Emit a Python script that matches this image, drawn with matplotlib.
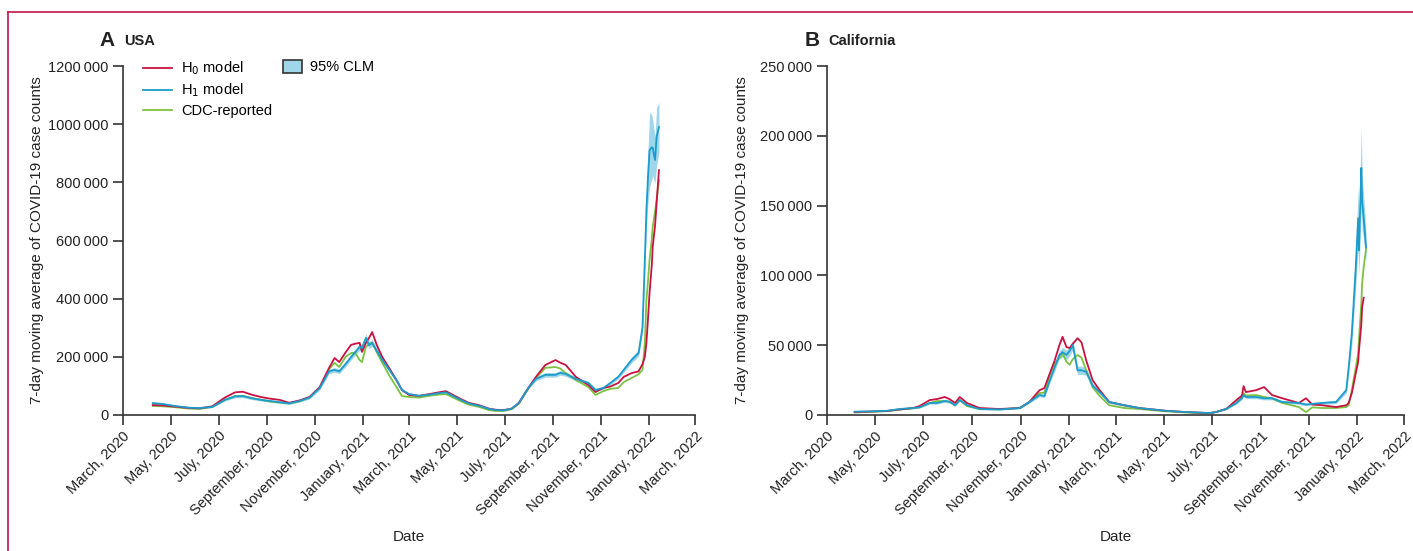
import matplotlib
matplotlib.use("Agg")
import matplotlib.pyplot as plt
import matplotlib.dates as mdates
from matplotlib.lines import Line2D
from matplotlib.patches import Patch
from matplotlib.ticker import FuncFormatter
import numpy as np
import pandas as pd

plt.rcParams['font.family'] = ['Liberation Sans Narrow', 'Liberation Sans', 'DejaVu Sans']

# ---- USA (values in thousands) ----
usa_dates = [
    "2020-04-08", "2020-04-20", "2020-05-06", "2020-05-25", "2020-06-07", "2020-06-23",
    "2020-07-09", "2020-07-22", "2020-08-01", "2020-08-12", "2020-08-24", "2020-09-05",
    "2020-09-17", "2020-09-29", "2020-10-12", "2020-10-25", "2020-11-07", "2020-11-19",
    "2020-11-26", "2020-12-02", "2020-12-10", "2020-12-17", "2020-12-22", "2020-12-28",
    "2020-12-31", "2021-01-05", "2021-01-09", "2021-01-13", "2021-01-19", "2021-01-26",
    "2021-02-04", "2021-02-13", "2021-02-20", "2021-03-01", "2021-03-14", "2021-03-27",
    "2021-04-08", "2021-04-17", "2021-05-04", "2021-05-16", "2021-05-29", "2021-06-11",
    "2021-06-20", "2021-06-30", "2021-07-10", "2021-07-19", "2021-08-01", "2021-08-10",
    "2021-08-22", "2021-09-04", "2021-09-10", "2021-09-17", "2021-09-30", "2021-10-16",
    "2021-10-25", "2021-11-04", "2021-11-13", "2021-11-23", "2021-11-30", "2021-12-10",
    "2021-12-19", "2021-12-24", "2021-12-27", "2021-12-29", "2021-12-31", "2022-01-02",
    "2022-01-05", "2022-01-06", "2022-01-09", "2022-01-11", "2022-01-14",
]
usa_h0 = [
    34, 33, 29, 24, 23, 30, 60, 78, 80, 70, 62, 56,
    52, 42, 50, 62, 96, 162, 196, 182, 215, 241, 245, 248,
    217, 248, 265, 285, 240, 199, 160, 120, 86, 69, 66, 72,
    78, 82, 58, 42, 34, 22, 18, 17, 22, 41, 96, 131,
    172, 189, 180, 172, 131, 103, 79, 93, 98, 110, 131, 144,
    150, 175, 200, 248, 330, 420, 520, 578, 650, 729, 842,
]
usa_h1 = [
    41, 38, 31, 25, 24, 28, 52, 64, 65, 58, 52, 48,
    44, 40, 48, 60, 92, 150, 155, 150, 175, 199, 215, 234,
    230, 265, 240, 248, 220, 189, 155, 120, 86, 72, 66, 70,
    75, 78, 55, 40, 32, 21, 17, 16, 22, 41, 96, 124,
    138, 138, 145, 141, 124, 110, 86, 93, 110, 131, 155, 189,
    213, 302, 533, 705, 818, 911, 921, 918, 877, 956, 990,
]
usa_h1_ci = [
    4, 4, 3, 3, 3, 3, 4, 5, 5, 5, 4, 4,
    4, 4, 4, 5, 6, 8, 8, 8, 9, 10, 10, 12,
    12, 14, 12, 12, 10, 9, 8, 7, 5, 4, 4, 4,
    4, 4, 3, 3, 3, 2, 2, 2, 2, 3, 5, 7,
    8, 8, 8, 8, 7, 6, 5, 5, 6, 7, 8, 10,
    12, 20, 35, 60, 90, 130, 110, 95, 80, 100, 85,
]
usa_cdc = [
    31, 30, 27, 22, 21, 28, 52, 65, 66, 58, 53, 46,
    43, 40, 47, 60, 94, 158, 179, 165, 200, 213, 215, 189,
    182, 234, 245, 248, 215, 179, 135, 96, 65, 62, 60, 66,
    70, 72, 50, 36, 28, 17, 14, 14, 20, 38, 94, 127,
    162, 165, 160, 144, 120, 96, 69, 82, 90, 93, 113, 127,
    140, 155, 250, 395, 460, 533, 610, 646, 700, 739, 808,
]

# ---- California (values in thousands) ----
ca_dates = [
    "2020-04-05", "2020-04-25", "2020-05-16", "2020-06-01", "2020-06-18", "2020-06-26",
    "2020-07-09", "2020-07-18", "2020-07-28", "2020-08-03", "2020-08-10", "2020-08-16",
    "2020-08-25", "2020-09-10", "2020-10-05", "2020-10-31", "2020-11-12", "2020-11-25",
    "2020-12-01", "2020-12-08", "2020-12-14", "2020-12-20", "2020-12-24", "2020-12-29",
    "2021-01-02", "2021-01-06", "2021-01-12", "2021-01-17", "2021-01-23", "2021-01-31",
    "2021-02-09", "2021-02-21", "2021-03-12", "2021-03-31", "2021-05-04", "2021-05-29",
    "2021-06-28", "2021-07-06", "2021-07-19", "2021-08-01", "2021-08-08", "2021-08-10",
    "2021-08-13", "2021-08-26", "2021-09-05", "2021-09-15", "2021-09-28", "2021-10-19",
    "2021-10-28", "2021-11-05", "2021-11-17", "2021-12-05", "2021-12-18", "2021-12-21",
    "2021-12-25", "2021-12-30", "2022-01-02", "2022-01-03", "2022-01-06", "2022-01-07",
    "2022-01-09", "2022-01-12",
]
ca_h0 = [
    2.1, 2.5, 2.9, 4.0, 5.0, 6.4, 10.7, 11.4, 12.9, 11.4, 8.6, 12.9,
    8.6, 5.0, 4.3, 5.0, 9.3, 17.8, 19.3, 30, 39, 50, 56, 48.6,
    48, 51, 55, 52, 39, 25, 17.8, 9.3, 7, 5, 3, 2.1,
    1.4, 2.1, 4.3, 10.7, 14, 20.7, 16.4, 17.8, 20, 14.3, 12, 8.6,
    12, 7.5, 7, 5.7, 7, 8.6, 15.7, 30, 38, 46, 65, 77,
    84, np.nan,
]
ca_h1 = [
    2.4, 2.6, 3.0, 4.3, 5.0, 5.5, 8.6, 8.6, 10.0, 9.5, 7.0, 10.7,
    7.0, 4.3, 4.0, 5.0, 9.3, 14.3, 13.6, 25, 34, 43, 45, 43,
    46, 50, 32, 32, 31, 21, 16.4, 9.3, 7, 5, 3, 2.1,
    1.4, 2.1, 4.3, 8.6, 12, 14.3, 12.9, 12.9, 12, 12, 9.3, 8.6,
    7.5, 8, 8.6, 9.3, 17.8, 34, 58.6, 106, 141, 118, 177, 153,
    141, 120,
]
ca_h1_ci = [
    0.4, 0.4, 0.4, 0.5, 0.5, 0.6, 0.8, 0.8, 0.9, 0.9, 0.8, 0.9,
    0.8, 0.5, 0.5, 0.6, 0.9, 1.2, 1.2, 2, 2.5, 3, 3.5, 3.5,
    3.5, 3.5, 3, 3, 2.5, 2, 1.5, 1, 0.8, 0.6, 0.4, 0.3,
    0.3, 0.3, 0.5, 0.8, 1, 1.2, 1.2, 1.2, 1.2, 1.1, 1, 0.9,
    0.9, 0.9, 1, 1.2, 2, 4, 8, 14, 22, 18, 29, 20,
    16, 10,
]
ca_cdc = [
    1.8, 2.3, 2.7, 3.8, 4.8, 5.5, 8.6, 10.0, 10.0, 9.5, 7.0, 10.7,
    6.4, 4.3, 4.0, 5.0, 9.3, 15.7, 16, 28.6, 37, 41, 44, 38,
    36, 40, 43, 41, 32, 20, 13.6, 7, 5, 4.3, 2.6, 1.8,
    1.4, 2.1, 4.3, 8.6, 13, 15.7, 14, 14.3, 12.9, 12, 8.6, 5.7,
    2, 5.5, 5, 5, 5.7, 7, 17.8, 34, 44, 53.5, 80, 94,
    106, 119,
]

RED = "#c8123f"
BLUE = "#1b9ccc"
GREEN = "#7cc242"
BAND = "#9fd6e9"
FRAME = "#c0174a"
GREY = "#333333"
TXT = "#222222"

fig = plt.figure(figsize=(14.13, 5.51), dpi=100)
W, H = 1413, 551


def px_axes(x0, x1, y0, y1):
    return fig.add_axes([x0 / W, 1 - y1 / H, (x1 - x0) / W, (y1 - y0) / H])


def fmt_thousands(v, pos):
    v = int(round(v))
    if v >= 10000:
        return f"{v // 1000}\u2009{v % 1000:03d}"
    return str(v)


def draw_panel(ax, dates, h0, h1, ci, cdc, ymax, ystep, ypad):
    d = pd.to_datetime(dates)
    h0 = np.array(h0, dtype=float) * 1000
    h1 = np.array(h1, dtype=float) * 1000
    ci = np.array(ci, dtype=float) * 1000
    cdc = np.array(cdc, dtype=float) * 1000
    ax.fill_between(d, h1 - ci, h1 + ci, color=BAND, lw=0, zorder=1)
    ax.plot(d, h0, color=RED, lw=1.3, zorder=3)
    ax.plot(d, cdc, color=GREEN, lw=1.3, zorder=2)
    ax.plot(d, h1, color=BLUE, lw=1.3, zorder=4)

    ax.set_xlim(pd.Timestamp("2020-03-01"), pd.Timestamp("2022-03-01"))
    ax.set_ylim(0, ymax)
    ax.set_yticks(np.arange(0, ymax + 1, ystep))
    ax.yaxis.set_major_formatter(FuncFormatter(fmt_thousands))
    ax.xaxis.set_major_locator(mdates.MonthLocator(bymonth=[1, 3, 5, 7, 9, 11]))
    ax.xaxis.set_major_formatter(mdates.DateFormatter("%B, %Y"))
    for lab in ax.get_xticklabels():
        lab.set_rotation(45)
        lab.set_ha("right")
        lab.set_rotation_mode("anchor")
    for s in ["top", "right"]:
        ax.spines[s].set_visible(False)
    for s in ["left", "bottom"]:
        ax.spines[s].set_color(GREY)
        ax.spines[s].set_linewidth(1.2)
    ax.tick_params(axis="both", direction="out", length=7, width=1.2, color=GREY,
                   labelsize=10.5, labelcolor=TXT)
    ax.tick_params(axis="x", pad=3)
    ax.set_xlabel("Date", fontsize=11, color=TXT, labelpad=8.5)
    ax.set_ylabel("7-day moving average of COVID-19 case counts", fontsize=11,
                  color=TXT, labelpad=ypad)


ax1 = px_axes(123, 695, 66, 415)
ax2 = px_axes(827, 1404, 66, 415)

draw_panel(ax1, usa_dates, usa_h0, usa_h1, usa_h1_ci, usa_cdc, 1200000, 200000, 3)
draw_panel(ax2, ca_dates, ca_h0, ca_h1, ca_h1_ci, ca_cdc, 250000, 50000, 8)

# panel titles
fig.text(99 / W, 1 - 40 / H, "A", fontsize=15, fontweight="bold", va="center", color=TXT)
fig.text(124 / W, 1 - 41 / H, "USA", fontsize=10.5, fontweight="bold", va="center", color=TXT)
fig.text(805 / W, 1 - 40 / H, "B", fontsize=15, fontweight="bold", va="center", color=TXT)
fig.text(828 / W, 1 - 41 / H, "California", fontsize=10.5, fontweight="bold", va="center", color=TXT)

# legend
line_handles = [
    Line2D([], [], color=RED, lw=1.3, label="H$_0$ model"),
    Line2D([], [], color=BLUE, lw=1.3, label="H$_1$ model"),
    Line2D([], [], color=GREEN, lw=1.3, label="CDC-reported"),
]
leg1 = ax1.legend(handles=line_handles, loc="upper left", bbox_to_anchor=(0.025, 1.035),
                  frameon=False, fontsize=10.5, handlelength=2.0, handletextpad=0.6,
                  labelspacing=0.3, borderaxespad=0)
ax1.add_artist(leg1)
clm = Patch(facecolor=BAND, edgecolor="#333333", lw=1.2, label="95% CLM")
ax1.legend(handles=[clm], loc="upper left", bbox_to_anchor=(0.27, 1.035), frameon=False,
           fontsize=10.5, handlelength=1.3, handleheight=1.0, handletextpad=0.5, borderaxespad=0)

# page frame
fig.add_artist(Line2D([8 / W, 1], [1 - 12 / H, 1 - 12 / H], color=FRAME, lw=1.2,
                      transform=fig.transFigure))
fig.add_artist(Line2D([8 / W, 8 / W], [1 - 12 / H, 0], color=FRAME, lw=1.2,
                      transform=fig.transFigure))

fig.savefig("out.png", dpi=100)
